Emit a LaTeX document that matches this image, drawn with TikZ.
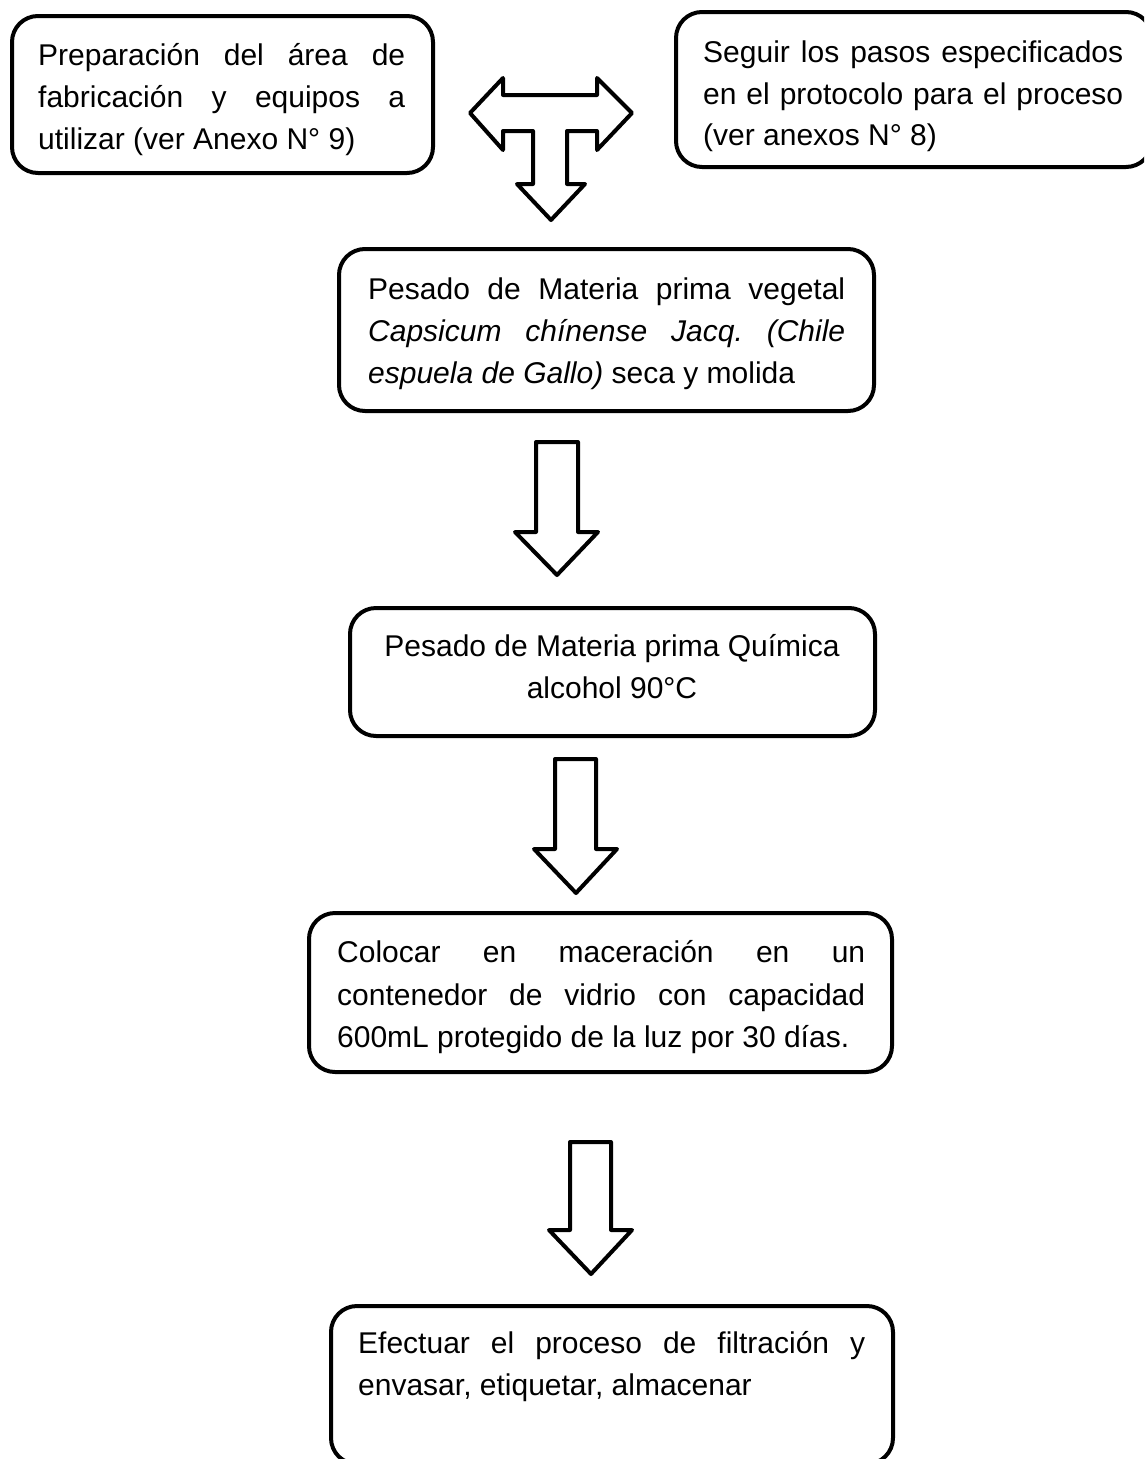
\documentclass[tikz,border=0pt]{standalone}
\usepackage{fontspec}
\setmainfont{Liberation Sans}
\frenchspacing
\begin{document}
\begin{tikzpicture}[x=1pt,y=-1pt,
  box/.style={draw=black, line width=4pt, rounded corners=26pt, inner sep=0pt},
  txt/.style={inner sep=0pt, font=\fontsize{30}{42}\selectfont\frenchspacing, anchor=base west},
  ctxt/.style={inner sep=0pt, font=\fontsize{30}{42}\selectfont\frenchspacing, anchor=base},
  blockarrow/.style={draw=black, line width=4pt, line join=round, fill=white}]
\useasboundingbox (0,0) rectangle (1144,1459);
\begin{scope}
\clip (0,0) rectangle (1144,1459);
% boxes
\node[box, minimum width=421pt, minimum height=157pt] (b1) at (222.5,94.5) {};
\node[box, minimum width=476pt, minimum height=155pt] (b2) at (914,89.5) {};
\node[box, minimum width=535pt, minimum height=162pt] (b3) at (606.5,330) {};
\node[box, minimum width=525pt, minimum height=128pt] (b4) at (612.5,672) {};
\node[box, minimum width=583pt, minimum height=159pt] (b5) at (600.5,992.5) {};
\node[box, minimum width=562pt, minimum height=158pt] (b6) at (612,1385) {};
\end{scope}
% texts
\node[txt] (t1a) at (38,65) {\makebox[367pt][s]{Preparación del área de}};
\node[txt] (t1b) at (38,107) {\makebox[367pt][s]{fabricación y equipos a}};
\node[txt] (t1c) at (38,149) {utilizar (ver Anexo N° 9)};

\node[txt] (t2a) at (703,62) {\makebox[420pt][s]{Seguir los pasos especificados}};
\node[txt] (t2b) at (703,104) {\makebox[420pt][s]{en el protocolo para el proceso}};
\node[txt] (t2c) at (703,145) {(ver anexos N° 8)};

\node[txt] (t3a) at (368,299) {\makebox[477pt][s]{Pesado de Materia prima vegetal}};
\node[txt] (t3b) at (368,341) {\makebox[477pt][s]{\itshape Capsicum chínense Jacq. (Chile}};
\node[txt] (t3c) at (368,383) {\textit{espuela de Gallo)} seca y molida};

\node[ctxt] (t4a) at (612,656) {Pesado de Materia prima Química};
\node[ctxt] (t4b) at (612,698) {alcohol 90°C};

\node[txt] (t5a) at (337,962) {\makebox[528pt][s]{Colocar en maceración en un}};
\node[txt] (t5b) at (337,1005) {\makebox[528pt][s]{contenedor de vidrio con capacidad}};
\node[txt] (t5c) at (337,1047) {600mL protegido de la luz por 30 días.};

\node[txt] (t6a) at (358,1353) {\makebox[507pt][s]{Efectuar el proceso de filtración y}};
\node[txt] (t6b) at (358,1395) {envasar, etiquetar, almacenar};

% T-shaped block arrow
\draw[blockarrow] (470,113) -- (503,78) -- (503,95) -- (597,95) -- (597,78) -- (632,113)
  -- (597,150) -- (597,131) -- (567,131) -- (567,184) -- (585,184) -- (551,220)
  -- (517,184) -- (533,184) -- (533,131) -- (503,131) -- (503,150) -- cycle;
% down block arrows
\draw[blockarrow] (536,442) -- (578,442) -- (578,532) -- (598,532) -- (557,575) -- (515,532) -- (536,532) -- cycle;
\draw[blockarrow] (555,759) -- (596,759) -- (596,849) -- (617,849) -- (576,893) -- (534,849) -- (555,849) -- cycle;
\draw[blockarrow] (570,1142) -- (611,1142) -- (611,1230) -- (632,1230) -- (591,1274) -- (549,1230) -- (570,1230) -- cycle;
\end{tikzpicture}
\end{document}
